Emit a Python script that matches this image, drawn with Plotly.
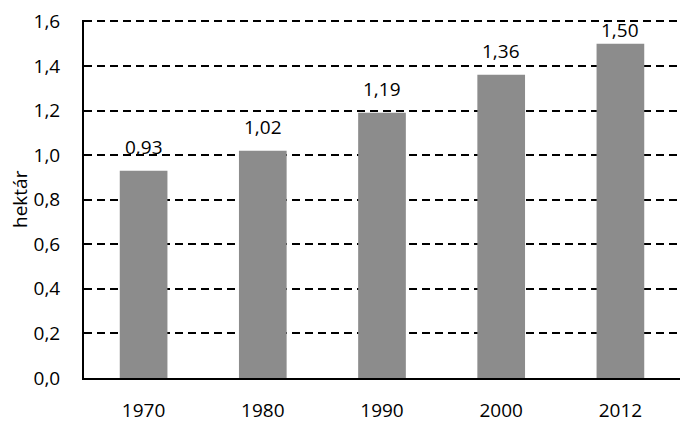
import plotly.graph_objects as go

# data
years = ["1970", "1980", "1990", "2000", "2012"]
hectares = [0.93, 1.02, 1.19, 1.36, 1.50]
y_ticks = [0.0, 0.2, 0.4, 0.6, 0.8, 1.0, 1.2, 1.4, 1.6]

font_name = "Open Sans"
y_max = 1.6
# a little headroom so plotly doesn't drop the top gridline
y_top = y_max + 0.006

# page body has an 8px margin, so the figure is drawn 8px smaller
fig_w, fig_h = 686, 419
m_l, m_r, m_t, m_b = 76, 14, 12, 49
px_per_unit = (fig_h - m_t - m_b) / y_top

fig = go.Figure()
fig.add_trace(go.Bar(x=years,
                     y=hectares,
                     marker=dict(color="#8c8c8c", line=dict(width=0)),
                     hoverinfo="x+y"))

# value labels above bars, pushed down when close to the top (like Excel does)
# (x given as category index, "1970" would be read as a number)
for i, val in enumerate(hectares):
    room = (y_top - val) * px_per_unit
    shift = min(9, room - 25)
    fig.add_annotation(x=i, y=val, text=f"{val:.2f}".replace(".", ","),
                       xanchor="center", yanchor="bottom", yshift=shift,
                       showarrow=False,
                       font=dict(size=19, color="black", family=font_name))

fig.update_layout(
    width=fig_w,
    height=fig_h,
    margin=dict(l=m_l, r=m_r, t=m_t, b=m_b),
    plot_bgcolor="white",
    paper_bgcolor="white",
    separators=", ",
    bargap=0.6,
    showlegend=False,
    font=dict(family=font_name, size=19, color="black"),
)

fig.update_xaxes(type="category", range=[-0.5, len(years) - 0.5],
                 showline=True, linecolor="black", linewidth=2,
                 showgrid=False, ticks="", tickfont=dict(size=19),
                 ticklabelstandoff=14, automargin=False)
fig.update_yaxes(range=[0, y_top], tickvals=y_ticks, tickformat=".1f",
                 showline=True, linecolor="black", linewidth=2,
                 showgrid=True, gridcolor="black", gridwidth=1.5,
                 griddash="8px,5px", zeroline=False, ticks="",
                 tickfont=dict(size=19), ticklabelstandoff=18,
                 ticklabeloverflow="allow", automargin=False)

# y axis title placed like the original (kept just inside the page edge)
fig.add_annotation(text="hektár", xref="paper", yref="paper",
                   x=-0.1074, y=0.5, xanchor="center", yanchor="middle",
                   textangle=-90, showarrow=False, font=dict(size=19))

fig.write_html("out.html")
